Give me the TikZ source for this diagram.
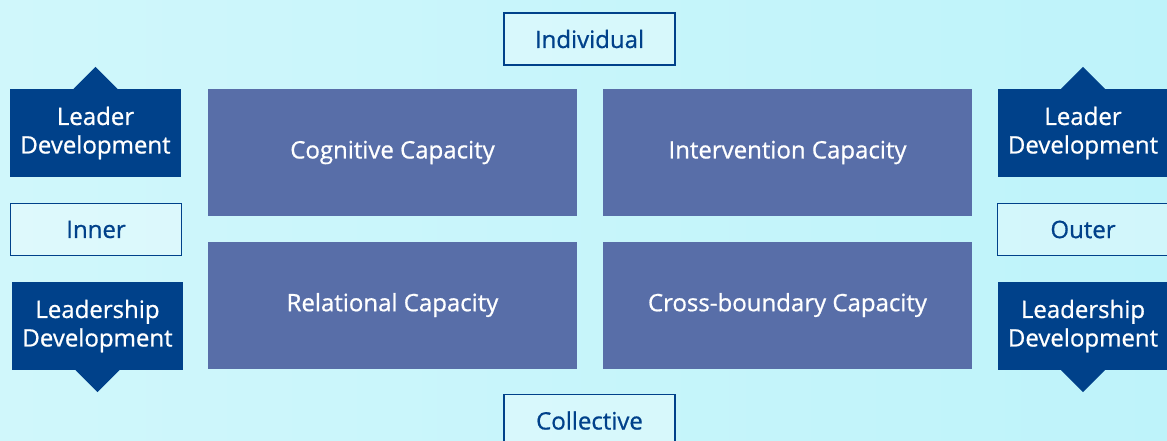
\documentclass[tikz,border=0pt]{standalone}
\usepackage{fontspec}
\setmainfont{Open Sans}
\newfontfamily\diagfont{Open Sans}[FakeBold=0.8]

\begin{document}
\begin{tikzpicture}[
    x=1pt, y=-1pt,
    every node/.style={
        font=\diagfont\fontsize{24}{28.5}\selectfont,
        align=center,
        inner sep=0pt
    },
    capbox/.style={
        fill=capblue,
        text=white,
        minimum width=369pt,
        minimum height=127pt
    },
    devbox/.style={
        fill=navy,
        text=white,
        minimum width=171pt,
        minimum height=88pt
    },
    labbox/.style={
        draw=navy,
        line width=1.3pt,
        fill=white, fill opacity=0.3, text opacity=1,
        text=navy,
        minimum width=171pt,
        minimum height=52pt
    }
]

% colours
\definecolor{navy}{RGB}{0,65,138}
\definecolor{capblue}{RGB}{88,110,168}
\definecolor{bgcyan}{RGB}{190,243,250}
\definecolor{bglight}{RGB}{208,247,251}

% background
\clip (0,0) rectangle (1167,441);
\shade[left color=bglight, right color=bgcyan] (0,0) rectangle (1167,441);

% axis labels
\node[labbox] (ind) at (589.5,39) {Individual};
\node[labbox] (col) at (589.5,420.5) {Collective};
\node[labbox] (inner) at (96,229.5) {Inner};
\node[labbox] (outer) at (1083,229.5) {Outer};

% capacities
\node[capbox] (cog) at (392.5,152.5) {Cognitive Capacity};
\node[capbox] (int) at (787.5,152.5) {Intervention Capacity};
\node[capbox] (rel) at (392.5,305) {Relational Capacity};
\node[capbox] (cross) at (787.5,305) {Cross-boundary Capacity};

% development boxes
\node[devbox] (ldL) at (95.5,133) {Leader\\Development};
\node[devbox] (lsL) at (97.5,326) {Leadership\\Development};
\node[devbox] (ldR) at (1083,133) {Leader\\Development};
\node[devbox] (lsR) at (1083,326) {Leadership\\Development};

% arrow tips
\fill[navy] ([xshift=-22pt]ldL.north) -- ([yshift=22pt]ldL.north) -- ([xshift=22pt]ldL.north) -- cycle;
\fill[navy] ([xshift=-22pt]ldR.north) -- ([yshift=22pt]ldR.north) -- ([xshift=22pt]ldR.north) -- cycle;
\fill[navy] ([xshift=-22pt]lsL.south) -- ([yshift=-22pt]lsL.south) -- ([xshift=22pt]lsL.south) -- cycle;
\fill[navy] ([xshift=-22pt]lsR.south) -- ([yshift=-22pt]lsR.south) -- ([xshift=22pt]lsR.south) -- cycle;

\end{tikzpicture}
\end{document}
